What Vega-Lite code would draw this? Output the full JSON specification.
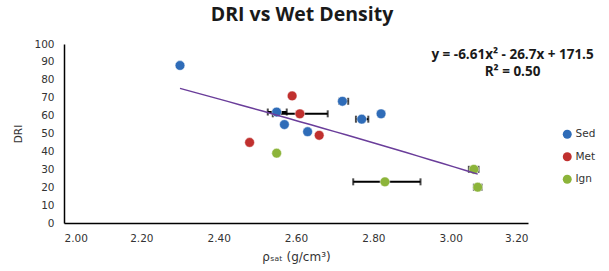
{
  "$schema": "https://vega.github.io/schema/vega-lite/v6.json",
  "width": 464,
  "height": 179,
  "autosize": "none",
  "padding": {"left": 64, "top": 44, "right": 81, "bottom": 48},
  "background": "white",
  "title": {"text": "DRI vs Wet Density", "fontSize": 19.5, "font": "Open Sans", "fontWeight": "bold", "color": "#1a1a1a", "anchor": "middle", "offset": 14, "dx": 6},
  "config": {
    "view": {"stroke": null},
    "axis": {"grid": false, "ticks": false, "labelOverlap": false, "domainColor": "#000000", "domainWidth": 1.5, "labelFont": "DejaVu Sans", "labelFontSize": 10.5, "labelColor": "#333333", "titleFont": "DejaVu Sans", "titleFontSize": 10.5, "titleFontWeight": "normal", "titleColor": "#333333"}
  },
  "datasets": {
    "pts": [
      {"rho": 2.30, "DRI": 88, "type": "Sed"},
      {"rho": 2.55, "DRI": 62, "type": "Sed"},
      {"rho": 2.57, "DRI": 55, "type": "Sed"},
      {"rho": 2.63, "DRI": 51, "type": "Sed"},
      {"rho": 2.72, "DRI": 68, "type": "Sed"},
      {"rho": 2.77, "DRI": 58, "type": "Sed"},
      {"rho": 2.82, "DRI": 61, "type": "Sed"},
      {"rho": 2.59, "DRI": 71, "type": "Met"},
      {"rho": 2.61, "DRI": 61, "type": "Met"},
      {"rho": 2.66, "DRI": 49, "type": "Met"},
      {"rho": 2.48, "DRI": 45, "type": "Met"},
      {"rho": 2.55, "DRI": 39, "type": "Ign"},
      {"rho": 2.83, "DRI": 23, "type": "Ign"},
      {"rho": 3.06, "DRI": 30, "type": "Ign"},
      {"rho": 3.07, "DRI": 20, "type": "Ign"}
    ],
    "err": [
      {"lo": 2.527, "hi": 2.576, "DRI": 62},
      {"lo": 2.54, "hi": 2.682, "DRI": 61},
      {"lo": 2.712, "hi": 2.735, "DRI": 68},
      {"lo": 2.755, "hi": 2.787, "DRI": 58},
      {"lo": 2.748, "hi": 2.922, "DRI": 23},
      {"lo": 3.047, "hi": 3.072, "DRI": 30},
      {"lo": 3.06, "hi": 3.08, "DRI": 20}
    ]
  },
  "layer": [
    {
      "data": {"name": "err"},
      "mark": {"type": "rule", "color": "#000000", "strokeWidth": 2},
      "encoding": {
        "x": {"field": "lo", "type": "quantitative", "scale": {"domain": [2.0, 3.2], "nice": false, "zero": false}, "axis": {"values": [2.0, 2.2, 2.4, 2.6, 2.8, 3.0, 3.2], "format": ".2f", "labelPadding": 10, "labelOverlap": false, "title": "ρₛₐₜ (g/cm³)", "titleFontSize": 12, "titlePadding": 8}},
        "x2": {"field": "hi"},
        "y": {"field": "DRI", "type": "quantitative", "scale": {"domain": [0, 100], "nice": false}, "axis": {"values": [0, 10, 20, 30, 40, 50, 60, 70, 80, 90, 100], "labelOverlap": false, "labelBound": false, "tickCount": 11, "labelPadding": 10, "title": "DRI", "titlePadding": 10}}
      }
    },
    {
      "data": {"name": "err"},
      "mark": {"type": "tick", "color": "#000000", "thickness": 2, "size": 7, "orient": "vertical"},
      "encoding": {
        "x": {"field": "lo", "type": "quantitative"},
        "y": {"field": "DRI", "type": "quantitative"}
      }
    },
    {
      "data": {"name": "err"},
      "mark": {"type": "tick", "color": "#000000", "thickness": 2, "size": 7, "orient": "vertical"},
      "encoding": {
        "x": {"field": "hi", "type": "quantitative"},
        "y": {"field": "DRI", "type": "quantitative"}
      }
    },
    {
      "data": {"name": "pts"},
      "mark": {"type": "circle", "size": 95, "opacity": 1, "stroke": "#ffffff", "strokeWidth": 0.5},
      "encoding": {
        "x": {"field": "rho", "type": "quantitative"},
        "y": {"field": "DRI", "type": "quantitative"},
        "color": {"field": "type", "type": "nominal", "scale": {"domain": ["Sed", "Met", "Ign"], "range": ["#2f6cb8", "#c0302e", "#8cb43a"]}, "legend": {"title": null, "orient": "none", "legendX": 498, "legendY": 85, "symbolType": "circle", "symbolSize": 80, "symbolStrokeWidth": 0, "labelFont": "DejaVu Sans", "labelFontSize": 10.5, "labelColor": "#333333", "rowPadding": 11.5, "labelOffset": 3}}
      }
    },
    {
      "data": {"name": "pts"},
      "transform": [{"regression": "DRI", "on": "rho", "method": "poly", "order": 2}],
      "mark": {"type": "line", "color": "#6a3d9a", "strokeWidth": 1.5},
      "encoding": {
        "x": {"field": "rho", "type": "quantitative"},
        "y": {"field": "DRI", "type": "quantitative"}
      }
    },
    {
      "data": {"values": [{"t": "y = -6.61x² - 26.7x + 171.5", "xx": 3.16, "yy": 94}, {"t": "R² = 0.50", "xx": 3.16, "yy": 84.5}]},
      "mark": {"type": "text", "font": "Open Sans", "fontWeight": "bold", "fontSize": 13.5, "color": "#1a1a1a", "align": "center", "baseline": "middle"},
      "encoding": {
        "x": {"field": "xx", "type": "quantitative"},
        "y": {"field": "yy", "type": "quantitative"},
        "text": {"field": "t"}
      }
    }
  ]
}
